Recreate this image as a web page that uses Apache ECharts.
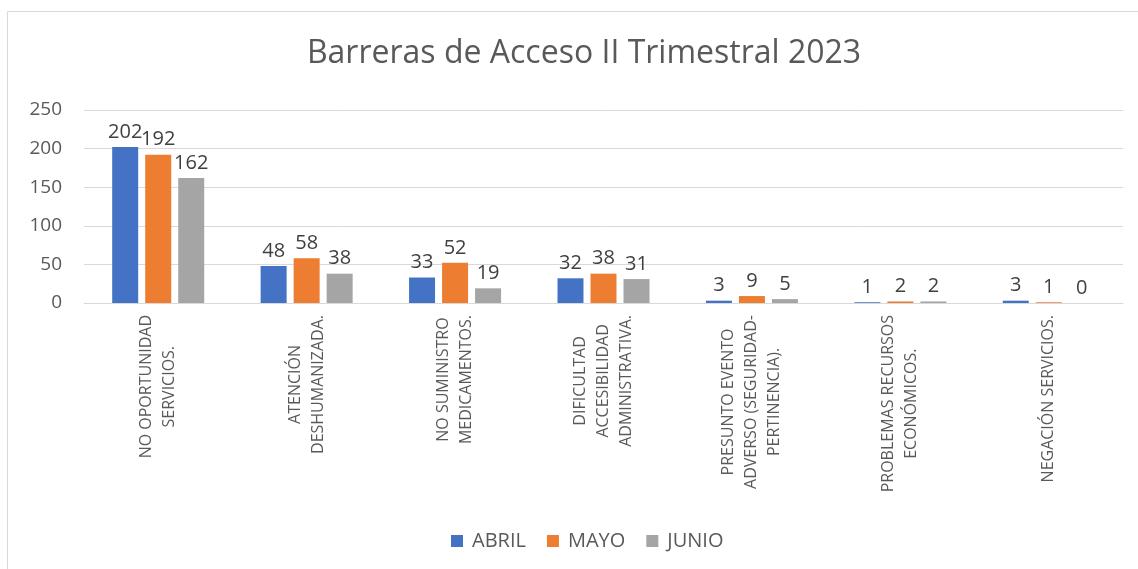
<!DOCTYPE html>
<html>
<head>
<meta charset="utf-8">
<script src="https://cdn.jsdelivr.net/npm/echarts@6/dist/echarts.min.js"></script>
<style>
  html, body { margin: 0; padding: 0; background: #fff; }
  #chart { width: 1138px; height: 569px; }
</style>
</head>
<body>
<div id="chart"></div>
<script>
var categories = [
  'NO OPORTUNIDAD\nSERVICIOS.',
  'ATENCIÓN\nDESHUMANIZADA.',
  'NO SUMINISTRO\nMEDICAMENTOS.',
  'DIFICULTAD\nACCESIBILIDAD\nADMINISTRATIVA.',
  'PRESUNTO EVENTO\nADVERSO (SEGURIDAD-\nPERTINENCIA).',
  'PROBLEMAS RECURSOS\nECONÓMICOS.',
  'NEGACIÓN SERVICIOS.'
];
var abril = [202, 48, 33, 32, 3, 1, 3];
var mayo  = [192, 58, 52, 38, 9, 2, 1];
var junio = [162, 38, 19, 31, 5, 2, 0];
var seriesNames = ['ABRIL', 'MAYO', 'JUNIO'];

var txt = '#595959';
var font = "'Open Sans', 'Noto Sans', sans-serif";

function barSerie(name, data){
  return {
    name: name,
    type: 'bar',
    data: data,
    barGap: '27%',
    barCategoryGap: '38%',
    label: {
      show: true,
      position: 'top',
      distance: 5,
      color: '#404040',
      fontSize: 20,
      fontFamily: font
    }
  };
}

var myChart = echarts.init(document.getElementById('chart'));
myChart.setOption({
  animation: false,
  color: ['#4472C4', '#ED7D31', '#A5A5A5'],
  textStyle: { fontFamily: font },
  title: {
    text: 'Barreras de Acceso II Trimestral 2023',
    left: 579,
    textAlign: 'center',
    top: 33,
    textStyle: { color: txt, fontSize: 32, fontWeight: 'normal', fontFamily: font }
  },
  graphic: [{
    type: 'rect',
    shape: { x: 7.5, y: 11.5, width: 1200, height: 700 },
    style: { fill: 'none', stroke: '#d9d9d9', lineWidth: 1 },
    silent: true,
    z: -1
  }],
  legend: {
    data: seriesNames,
    left: 446,
    top: 526,
    itemWidth: 12,
    itemHeight: 12,
    itemGap: 21,
    icon: 'rect',
    textStyle: { color: txt, fontSize: 20, fontFamily: font, padding: [0, 0, 0, 4] }
  },
  grid: { left: 84, right: 15, top: 110, bottom: 266 },
  xAxis: {
    type: 'category',
    data: categories,
    axisLine: { lineStyle: { color: '#d9d9d9' } },
    axisTick: { show: false },
    axisLabel: {
      interval: 0,
      rotate: 90,
      margin: 12,
      color: txt,
      fontSize: 16,
      lineHeight: 23,
      formatter: function(v){
        return v.split('\n').map(function(s){ return '{c|' + s + '}'; }).join('\n');
      },
      rich: {
        c: { align: 'center', color: txt, fontSize: 16, lineHeight: 23, fontFamily: font }
      }
    }
  },
  yAxis: {
    type: 'value',
    min: 0,
    max: 250,
    interval: 50,
    axisLine: { show: false },
    axisTick: { show: false },
    splitLine: { lineStyle: { color: '#d9d9d9' } },
    axisLabel: { color: txt, fontSize: 19, margin: 22, fontFamily: font }
  },
  series: [
    barSerie('ABRIL', abril),
    barSerie('MAYO', mayo),
    barSerie('JUNIO', junio)
  ]
});
window.onresize = myChart.resize;
</script>
</body>
</html>
